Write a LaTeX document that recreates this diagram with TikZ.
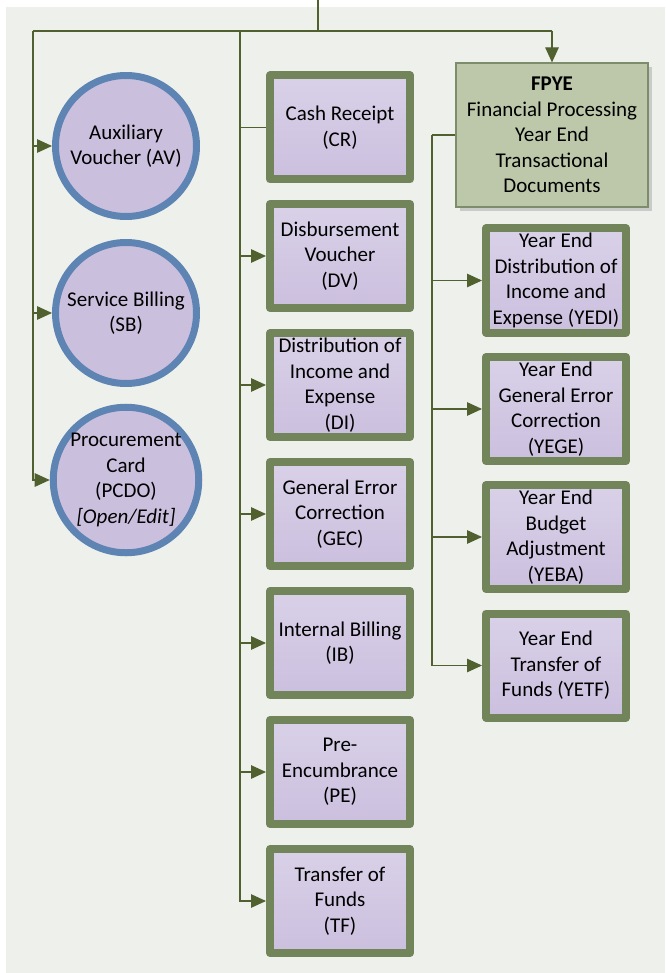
\documentclass[tikz,border=0pt]{standalone}
\usepackage{fontspec}
\setmainfont{Carlito}
\usetikzlibrary{arrows.meta,shadows}
\definecolor{bg}{HTML}{EEF1EB}
\definecolor{boxgreen}{HTML}{72845A}
\definecolor{lav}{HTML}{CBBFDE}
\definecolor{lavtop}{HTML}{D9D1E8}
\definecolor{circblue}{HTML}{5E84B3}
\definecolor{fpyefill}{HTML}{BCC8A9}
\definecolor{fpyeline}{HTML}{7D8C6A}
\definecolor{conncol}{HTML}{50602F}
\begin{document}
\begin{tikzpicture}[x=1pt,y=-1pt,
 txt/.style={font=\fontsize{21}{25.5}\selectfont, align=center, text=black},
 docbox/.style={txt, rectangle, draw=boxgreen, line width=8pt, line join=round,
   top color=lavtop, bottom color=lav, minimum width=140pt, minimum height=104pt,
   inner sep=0pt, outer sep=4pt},
 circbox/.style={txt, circle, draw=circblue, line width=7pt, fill=lav,
   minimum size=141pt, inner sep=0pt, outer sep=3.5pt},
 mainbox/.style={txt, rectangle, draw=fpyeline, line width=1.2pt, fill=fpyefill,
   minimum width=192pt, minimum height=144pt, inner sep=0pt, outer sep=0.6pt,
   drop shadow={shadow xshift=4pt, shadow yshift=-4pt, fill=black!35, opacity=0.5}},
 conn/.style={draw=conncol, line width=1.2pt},
 arr/.style={conn, -{Triangle[length=15pt,width=13.5pt]}}
]
\useasboundingbox (0,0) rectangle (665,973);
\fill[bg] (6,7) rectangle (665,973);

% circles
\node[circbox] (av) at (126,146) {Auxiliary\\Voucher (AV)};
\node[circbox] (sb) at (126,313) {Service Billing\\(SB)};
\node[circbox] (pcdo) at (126,480) {Procurement\\Card\\(PCDO)\\\textit{[Open/Edit]}};

% middle column
\node[docbox] (cr) at (340,127.5) {Cash Receipt\\(CR)};
\node[docbox] (dv) at (340,256) {Disbursement\\Voucher\\(DV)};
\node[docbox] (di) at (340,385) {Distribution of\\Income and\\Expense\\(DI)};
\node[docbox] (gec) at (340,514) {General Error\\Correction\\(GEC)};
\node[docbox] (ib) at (340,643) {Internal Billing\\(IB)};
\node[docbox] (pe) at (340,772) {Pre-\\Encumbrance\\(PE)};
\node[docbox] (tf) at (340,901) {Transfer of\\Funds\\(TF)};

% FPYE
\node[mainbox] (fpye) at (552,135) {\textbf{FPYE}\\Financial Processing\\Year End\\Transactional\\Documents};

% right column
\node[docbox] (yedi) at (556,280.5) {Year End\\Distribution of\\Income and\\Expense (YEDI)};
\node[docbox] (yege) at (556,409) {Year End\\General Error\\Correction\\(YEGE)};
\node[docbox] (yeba) at (556,537) {Year End\\Budget\\Adjustment\\(YEBA)};
\node[docbox] (yetf) at (556,665.5) {Year End\\Transfer of\\Funds (YETF)};

% connectors
\coordinate (top) at (318,0);
\coordinate (j) at (318,31);
\coordinate (hl) at (33,31);
\coordinate (hm) at (240,31);
\coordinate (hr) at (552,31);
\coordinate (rv) at (432,135);

\draw[conn] (top) -- (j);
\draw[conn] (hl) -- (hr);
\draw[arr] (hr) -- (fpye.north);

\draw[arr] (hl) |- (av.west);
\draw[arr] (hl) |- (sb.west);
\draw[arr] (hl) |- (pcdo.west);

\draw[conn] (hm) |- (cr.west);
\draw[arr] (hm) |- (dv.west);
\draw[arr] (hm) |- (di.west);
\draw[arr] (hm) |- (gec.west);
\draw[arr] (hm) |- (ib.west);
\draw[arr] (hm) |- (pe.west);
\draw[arr] (hm) |- (tf.west);

\draw[conn] (fpye.west) -- (rv);
\draw[arr] (rv) |- (yedi.west);
\draw[arr] (rv) |- (yege.west);
\draw[arr] (rv) |- (yeba.west);
\draw[arr] (rv) |- (yetf.west);
\end{tikzpicture}
\end{document}
